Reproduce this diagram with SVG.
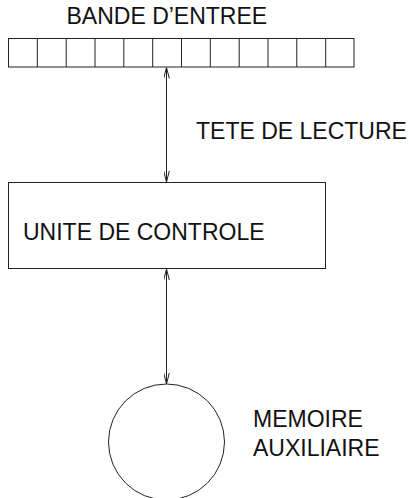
<svg xmlns="http://www.w3.org/2000/svg" width="409" height="498" viewBox="0 0 409 498">
<style>
.s{fill:none;stroke:#222;stroke-width:1}
.t{font-family:"Liberation Sans",Arial,sans-serif;font-size:23px;fill:#111}
.c{stroke:#222;stroke-width:1;fill:none}
</style>
<defs>
<marker id="ah" viewBox="0 0 11 6" refX="11" refY="3" markerWidth="11" markerHeight="6" markerUnits="userSpaceOnUse" orient="auto-start-reverse">
<path d="M0,0.2 L11,3 L0,5.8" fill="none" stroke="#222" stroke-width="1"/>
</marker>
</defs>
<rect width="409" height="498" fill="#fff"/>
<g id="bande">
<text class="t" x="66.5" y="24">BANDE D’ENTREE</text>
<rect class="s" x="8.5" y="38.5" width="345.5" height="28.5"/>
<path class="s" d="M37.3,38.5V67M66.2,38.5V67M95,38.5V67M123.8,38.5V67M152.7,38.5V67M181.5,38.5V67M210.3,38.5V67M239.2,38.5V67M268,38.5V67M296.8,38.5V67M325.7,38.5V67"/>
</g>
<g id="tete">
<text class="t" x="196" y="139">TETE DE LECTURE</text>
</g>
<g id="unite">
<rect class="s" x="8.5" y="182.5" width="317" height="86"/>
<text class="t" x="23" y="240">UNITE DE CONTROLE</text>
</g>
<g id="memoire">
<circle class="s" cx="166.5" cy="442" r="58"/>
<text class="t" x="253" y="427">MEMOIRE</text>
<text class="t" x="253" y="456">AUXILIAIRE</text>
</g>
<g id="connectors">
<line class="c" x1="166.5" y1="67.5" x2="166.5" y2="182" marker-start="url(#ah)" marker-end="url(#ah)"/>
<line class="c" x1="166.5" y1="269" x2="166.5" y2="384" marker-start="url(#ah)" marker-end="url(#ah)"/>
</g>
</svg>
